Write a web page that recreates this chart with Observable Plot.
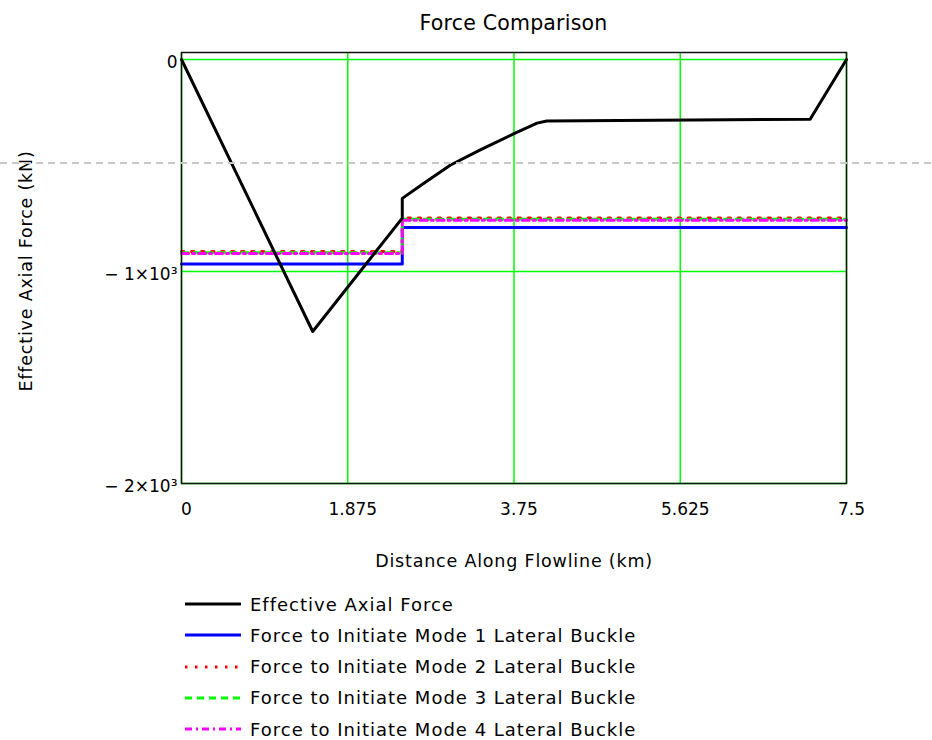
<!DOCTYPE html>
<html><head><meta charset="utf-8">
<script src="https://cdn.jsdelivr.net/npm/d3@7"></script>
<script src="https://cdn.jsdelivr.net/npm/@observablehq/plot@0.6"></script>
<style>
body{margin:0;background:#fff;font-family:"DejaVu Sans",sans-serif;color:#000;}
#wrap{position:relative;width:932px;height:740px;overflow:hidden;}
#chart{position:absolute;left:0;top:0;}
#title{position:absolute;left:181px;width:665px;top:10px;text-align:center;font-size:20.5px;line-height:26px;letter-spacing:0.2px;}
.row{position:absolute;left:185px;height:24px;display:flex;align-items:center;font-size:18px;letter-spacing:1px;white-space:nowrap;}
.row svg{width:56px;height:24px;margin-right:9px;flex:none;}
#artifact{position:absolute;left:0;top:161px;width:932px;height:4px;}
</style></head><body>
<div id="wrap"><div id="chart"></div><div id="title"></div><div id="legend"></div>
<svg id="artifact" width="932" height="4"><line x1="0" x2="932" y1="2" y2="2" stroke="#c8c8c8" stroke-width="2" stroke-dasharray="7,5"/></svg>
</div>
<script>
const titleText = "Force Comparison";
const xLabel = "Distance Along Flowline (km)";
const yLabel = "Effective Axial Force (kN)";
const xTicks = [0, 1.875, 3.75, 5.625, 7.5];
const xTickLabels = ["0", "1.875", "3.75", "5.625", "7.5"];
const yTicks = [0, -1000, -2000];
const yTickLabels = ["0", "\u2212 1\u00d710\u00b3", "\u2212 2\u00d710\u00b3"];

// Effective axial force (km, kN)
const effDist  = [0, 1.48, 2.49, 2.49, 2.75, 3.03, 3.37, 3.75, 4.01, 4.12, 7.09, 7.5];
const effForce = [0, -1283, -748, -655, -579, -499, -426, -350, -300, -290, -282, 0];

// Step series for buckle initiation forces
const stepDist   = [0, 2.49, 2.49, 7.5];
const mode1Force = [-965, -965, -792, -792];
const mode2Force = [-906, -906, -748, -748];
const mode3Force = [-911, -911, -753, -753];
const mode4Force = [-915, -915, -758, -758];

const seriesNames = [
  "Effective Axial Force",
  "Force to Initiate Mode 1 Lateral Buckle",
  "Force to Initiate Mode 2 Lateral Buckle",
  "Force to Initiate Mode 3 Lateral Buckle",
  "Force to Initiate Mode 4 Lateral Buckle"
];
const seriesColors = ["#000000", "#0000ff", "#ff0000", "#00ff00", "#ff00ff"];
const seriesDash = [null, null, "2.5,7.5", "7,5", "7,4,2,4"];

const toRows = (xs, ys) => xs.map((x, i) => ({x, y: ys[i]}));
const effective = toRows(effDist, effForce);
const mode1 = toRows(stepDist, mode1Force);
const mode2 = toRows(stepDist, mode2Force);
const mode3 = toRows(stepDist, mode3Force);
const mode4 = toRows(stepDist, mode4Force);

const gridStyle = {stroke: "#00ff00", strokeOpacity: 1, strokeWidth: 1.5};

const chart = Plot.plot({
  width: 932, height: 600,
  marginLeft: 181, marginRight: 86, marginTop: 52, marginBottom: 117,
  style: {fontFamily: "DejaVu Sans", fontSize: "16.5px", color: "#000", background: "transparent"},
  x: {domain: [0, 7.5]},
  y: {domain: [-2000, 33]},
  marks: [
    Plot.gridX(xTicks, gridStyle),
    Plot.gridY(yTicks, gridStyle),
    Plot.line(mode1, {x: "x", y: "y", stroke: seriesColors[1], strokeWidth: 3}),
    Plot.line(mode2, {x: "x", y: "y", stroke: seriesColors[2], strokeWidth: 3, strokeDasharray: seriesDash[2]}),
    Plot.line(mode3, {x: "x", y: "y", stroke: seriesColors[3], strokeWidth: 3, strokeDasharray: seriesDash[3]}),
    Plot.line(mode4, {x: "x", y: "y", stroke: seriesColors[4], strokeWidth: 3, strokeDasharray: seriesDash[4]}),
    Plot.line(effective, {x: "x", y: "y", stroke: seriesColors[0], strokeWidth: 3}),
    Plot.frame({stroke: "#111", strokeWidth: 1.5}),
    Plot.axisX(xTicks, {tickSize: 0, tickPadding: 19, dx: 5, fontSize: 17, label: null,
      tickFormat: d => xTickLabels[xTicks.indexOf(d)]}),
    Plot.axisY(yTicks, {tickSize: 0, tickPadding: 4, dy: 3, fontSize: 17, label: null,
      tickFormat: d => yTickLabels[yTicks.indexOf(d)]}),
    Plot.text([xLabel], {frameAnchor: "bottom", dy: 83, text: d => d, fontSize: 17.5}),
    Plot.text([yLabel], {frameAnchor: "left", dx: -155, dy: 3, rotate: -90, textAnchor: "middle", text: d => d, fontSize: 17.5})
  ]
});
d3.select(chart).selectAll('g[aria-label="text"] text').attr("letter-spacing", "0.8px");
document.getElementById("chart").appendChild(chart);
document.getElementById("title").textContent = titleText;

const legend = document.getElementById("legend");
seriesNames.forEach((name, i) => {
  const row = document.createElement("div");
  row.className = "row";
  row.style.top = (604 + i * 31.25 - 12) + "px";
  const dash = seriesDash[i] ? ` stroke-dasharray="${seriesDash[i]}"` : "";
  row.innerHTML = `<svg width="56" height="24"><line x1="0" x2="56" y1="12" y2="12" stroke="${seriesColors[i]}" stroke-width="3"${dash}/></svg><span></span>`;
  row.querySelector("span").textContent = name;
  legend.appendChild(row);
});
</script>
</body></html>
